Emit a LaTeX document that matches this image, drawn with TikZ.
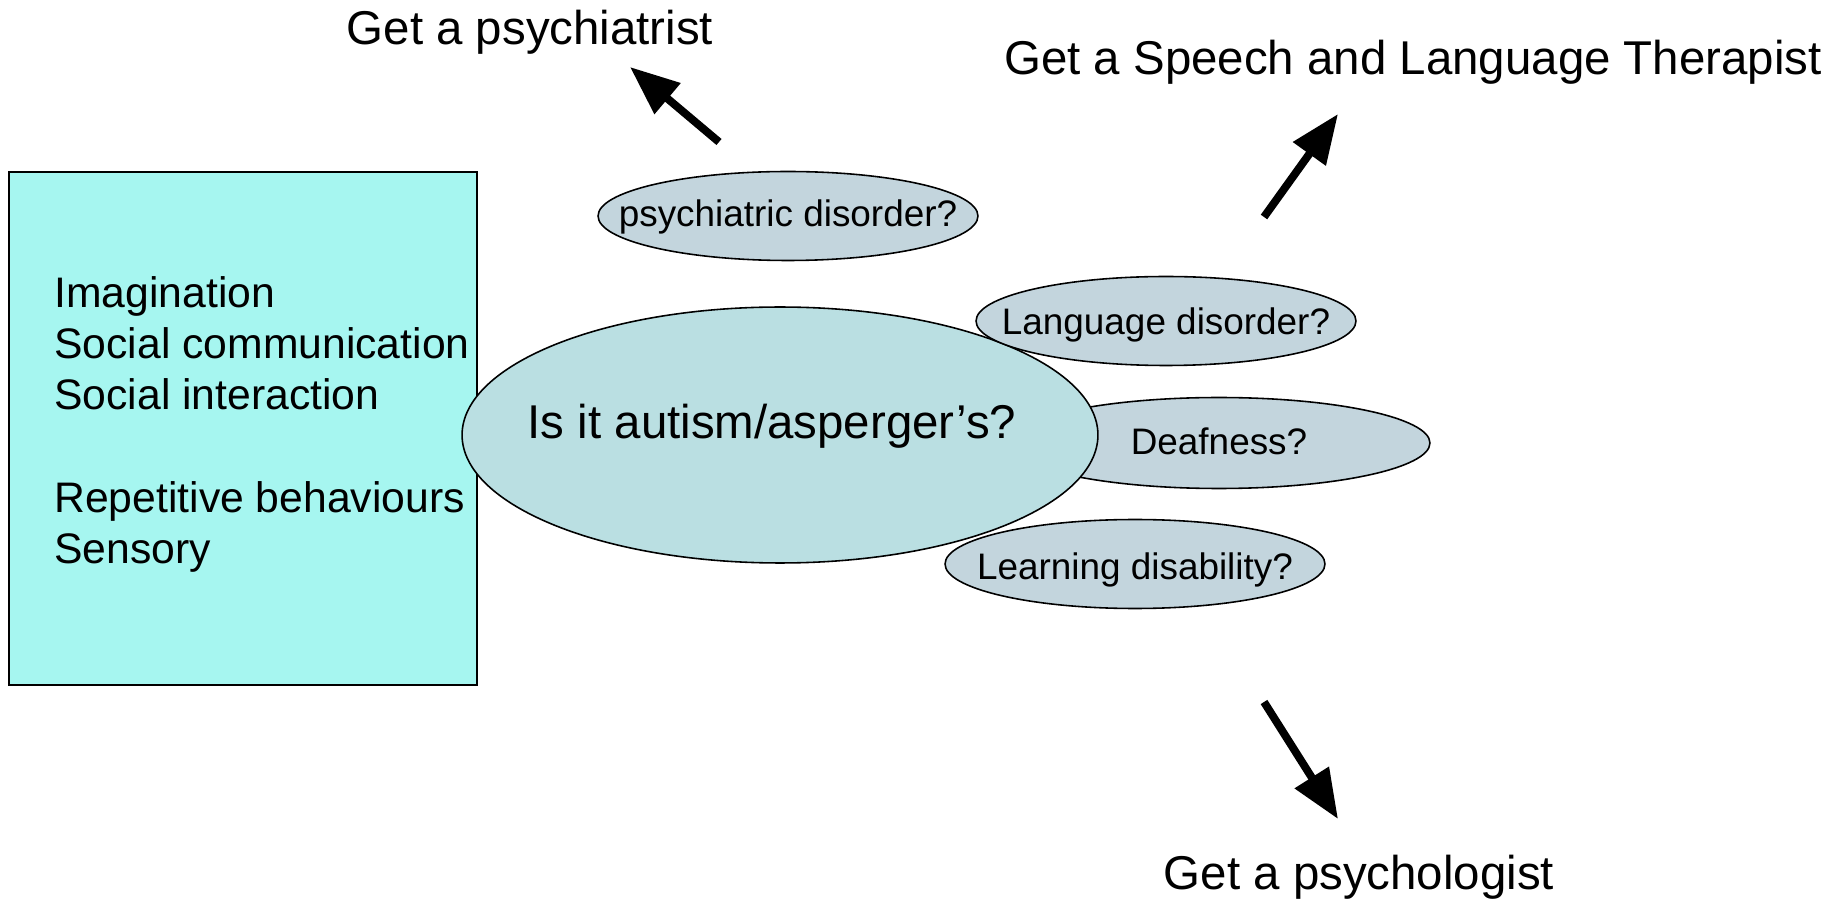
\documentclass[tikz,border=0pt]{standalone}
\usepackage{fontspec}
\setmainfont{Liberation Sans}
\usetikzlibrary{shapes.geometric,arrows.meta}
\definecolor{boxcyan}{RGB}{166,246,240}
\definecolor{bigblue}{RGB}{186,223,226}
\definecolor{smallgrey}{RGB}{195,213,221}
\newcommand{\bigtxt}{\fontsize{27}{32}\selectfont}
\newcommand{\boxtxt}{\fontsize{24.3}{29.2}\selectfont}
\newcommand{\smalltxt}{\fontsize{21}{25}\selectfont}
% text set with its baseline #1 below the middle of the ellipse
\newcommand{\qlabel}[2]{\makebox[0pt]{\smash{\raisebox{-#1}{#2}}}}
\begin{document}
\begin{tikzpicture}[x=0.02cm,y=-0.02cm,
		question/.style={ellipse,draw,line width=0.9pt,fill=smallgrey,inner sep=0pt,minimum width=7.6cm,minimum height=1.78cm,font=\smalltxt},
		fatarrow/.style={line width=4.5pt,-{Triangle[length=28pt,width=22pt]}}]
	\useasboundingbox(0,0)rectangle(1835,901);
	% symptom box
	\draw[fill=boxcyan,line width=0.8pt](9,172)rectangle(477,685);
	\node(traits)[anchor=north west,align=left,inner sep=0pt,font=\boxtxt]at(54,276){Imagination\\Social communication\\Social interaction\\[29.2pt]Repetitive behaviours\\Sensory};
	% ellipses
	\node(psych)[question]at(788,216){\qlabel{6.2pt}{psychiatric disorder?}};
	\node(deaf)[question,minimum width=8.44cm,minimum height=1.82cm]at(1219,443){\qlabel{6.8pt}{Deafness?}};
	\node(autism)[ellipse,draw,line width=0.9pt,fill=bigblue,minimum width=12.72cm,minimum height=5.12cm]at(780,435){};
	\node(question)[anchor=base,font=\bigtxt]at(772,439){Is it autism/asperger’s?};
	\node(lang)[question]at(1166,321){\qlabel{7.9pt}{Language disorder?}};
	\node(learn)[question]at(1135,564){\qlabel{9.1pt}{Learning disability?}};
	% where to go
	\node(psychiatrist)[anchor=base,font=\bigtxt]at(530,45){Get a psychiatrist};
	\node(therapist)[anchor=base,font=\bigtxt]at(1413,75){Get a Speech and Language Therapist};
	\node(psychologist)[anchor=base,font=\bigtxt]at(1359,889){Get a psychologist};
	\coordinate(a1)at(719,142);\coordinate(b1)at(630,67);
	\coordinate(a2)at(1264,217);\coordinate(b2)at(1338,114);
	\coordinate(a3)at(1264,702);\coordinate(b3)at(1338,819);
	\draw[fatarrow](a1)--(b1);
	\draw[fatarrow](a2)--(b2);
	\draw[fatarrow](a3)--(b3);
\end{tikzpicture}
\end{document}
